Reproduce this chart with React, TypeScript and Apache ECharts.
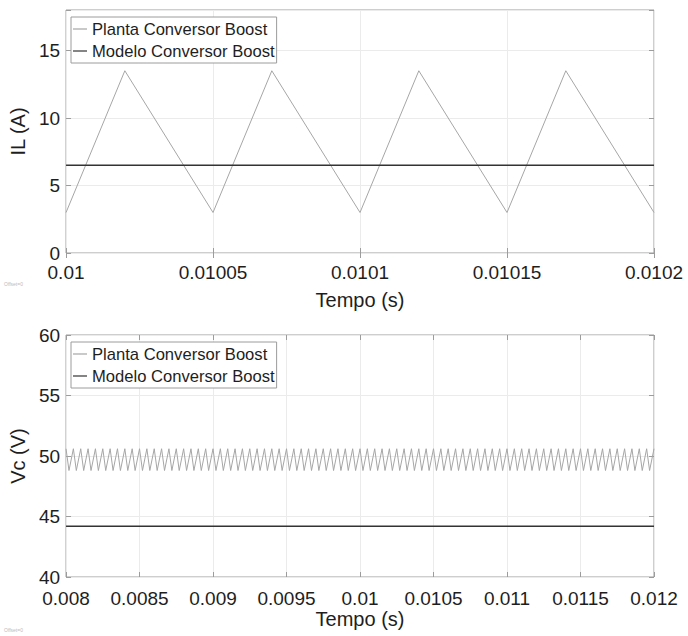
import React, { useEffect, useRef } from "react";
import * as echarts from "echarts";

// ---- Data ----
const seriesNames = ["Planta Conversor Boost", "Modelo Conversor Boost"];

// Upper plot: inductor current IL (A)
const ilTimes = [0.01, 0.01002, 0.01005, 0.01007, 0.0101, 0.01012, 0.01015, 0.01017, 0.0102];
const ilPlanta = [3.0, 13.5, 3.0, 13.5, 3.0, 13.5, 3.0, 13.5, 3.0];
const ilModeloTimes = [0.01, 0.0102];
const ilModelo = [6.5, 6.5];

// Lower plot: capacitor voltage Vc (V)
const vcTimes = [
  0.008, 0.00802, 0.00805, 0.00807, 0.0081, 0.00812, 0.00815, 0.00817, 0.0082, 0.00822, 0.00825, 0.00827, 0.0083, 0.00832, 0.00835, 0.00837, 0.0084, 0.00842, 0.00845, 0.00847,
  0.0085, 0.00852, 0.00855, 0.00857, 0.0086, 0.00862, 0.00865, 0.00867, 0.0087, 0.00872, 0.00875, 0.00877, 0.0088, 0.00882, 0.00885, 0.00887, 0.0089, 0.00892, 0.00895, 0.00897,
  0.009, 0.00902, 0.00905, 0.00907, 0.0091, 0.00912, 0.00915, 0.00917, 0.0092, 0.00922, 0.00925, 0.00927, 0.0093, 0.00932, 0.00935, 0.00937, 0.0094, 0.00942, 0.00945, 0.00947,
  0.0095, 0.00952, 0.00955, 0.00957, 0.0096, 0.00962, 0.00965, 0.00967, 0.0097, 0.00972, 0.00975, 0.00977, 0.0098, 0.00982, 0.00985, 0.00987, 0.0099, 0.00992, 0.00995, 0.00997,
  0.01, 0.01002, 0.01005, 0.01007, 0.0101, 0.01012, 0.01015, 0.01017, 0.0102, 0.01022, 0.01025, 0.01027, 0.0103, 0.01032, 0.01035, 0.01037, 0.0104, 0.01042, 0.01045, 0.01047,
  0.0105, 0.01052, 0.01055, 0.01057, 0.0106, 0.01062, 0.01065, 0.01067, 0.0107, 0.01072, 0.01075, 0.01077, 0.0108, 0.01082, 0.01085, 0.01087, 0.0109, 0.01092, 0.01095, 0.01097,
  0.011, 0.01102, 0.01105, 0.01107, 0.0111, 0.01112, 0.01115, 0.01117, 0.0112, 0.01122, 0.01125, 0.01127, 0.0113, 0.01132, 0.01135, 0.01137, 0.0114, 0.01142, 0.01145, 0.01147,
  0.0115, 0.01152, 0.01155, 0.01157, 0.0116, 0.01162, 0.01165, 0.01167, 0.0117, 0.01172, 0.01175, 0.01177, 0.0118, 0.01182, 0.01185, 0.01187, 0.0119, 0.01192, 0.01195, 0.01197,
  0.012,
];
const vcPlanta = [
  50.6, 48.8, 50.6, 48.8, 50.6, 48.8, 50.6, 48.8, 50.6, 48.8, 50.6, 48.8, 50.6, 48.8, 50.6, 48.8, 50.6, 48.8, 50.6, 48.8,
  50.6, 48.8, 50.6, 48.8, 50.6, 48.8, 50.6, 48.8, 50.6, 48.8, 50.6, 48.8, 50.6, 48.8, 50.6, 48.8, 50.6, 48.8, 50.6, 48.8,
  50.6, 48.8, 50.6, 48.8, 50.6, 48.8, 50.6, 48.8, 50.6, 48.8, 50.6, 48.8, 50.6, 48.8, 50.6, 48.8, 50.6, 48.8, 50.6, 48.8,
  50.6, 48.8, 50.6, 48.8, 50.6, 48.8, 50.6, 48.8, 50.6, 48.8, 50.6, 48.8, 50.6, 48.8, 50.6, 48.8, 50.6, 48.8, 50.6, 48.8,
  50.6, 48.8, 50.6, 48.8, 50.6, 48.8, 50.6, 48.8, 50.6, 48.8, 50.6, 48.8, 50.6, 48.8, 50.6, 48.8, 50.6, 48.8, 50.6, 48.8,
  50.6, 48.8, 50.6, 48.8, 50.6, 48.8, 50.6, 48.8, 50.6, 48.8, 50.6, 48.8, 50.6, 48.8, 50.6, 48.8, 50.6, 48.8, 50.6, 48.8,
  50.6, 48.8, 50.6, 48.8, 50.6, 48.8, 50.6, 48.8, 50.6, 48.8, 50.6, 48.8, 50.6, 48.8, 50.6, 48.8, 50.6, 48.8, 50.6, 48.8,
  50.6, 48.8, 50.6, 48.8, 50.6, 48.8, 50.6, 48.8, 50.6, 48.8, 50.6, 48.8, 50.6, 48.8, 50.6, 48.8, 50.6, 48.8, 50.6, 48.8,
  50.6,
];
const vcModeloTimes = [0.008, 0.012];
const vcModelo = [44.2, 44.2];

// Axis labels / titles
const xTitle = "Tempo (s)";
const ilTitle = "IL (A)";
const vcTitle = "Vc (V)";
const offsetNote = "Offset=0";

const FONT = "'Liberation Sans', Arial, Helvetica, sans-serif";
const TXT = "#1e1e1e";
const BOX = "#9c9c9c";
const GRIDC = "#ebebeb";
const PLANTA_C = "#a6a6a6";
const MODELO_C = "#333333";

const fmtX = (v: number) => parseFloat(v.toPrecision(10)).toString();

function zip(xs: number[], ys: number[]) {
  return xs.map((x, i) => [x, ys[i]]);
}

export default function App() {
  const ref = useRef<HTMLDivElement>(null);
  useEffect(() => {
    if (!ref.current) return;
    const chart = echarts.init(ref.current, undefined, { renderer: "svg" });

    const mainX = (gi: number, min: number, max: number, interval: number, nameGap: number, margin: number) => ({
      gridIndex: gi,
      type: "value",
      min,
      max,
      interval,
      name: xTitle,
      nameLocation: "middle",
      nameGap,
      nameTextStyle: { fontFamily: FONT, fontSize: 20, color: TXT },
      axisLine: { show: false },
      axisTick: { show: true, inside: true, length: 5, lineStyle: { color: BOX } },
      axisLabel: { fontFamily: FONT, fontSize: 19, lineHeight: 16, color: TXT, margin, formatter: fmtX },
      splitLine: { show: true, lineStyle: { color: GRIDC, width: 1 } },
    });
    const topX = (gi: number, min: number, max: number, interval: number) => ({
      gridIndex: gi,
      type: "value",
      position: "top",
      min,
      max,
      interval,
      axisLine: { show: false },
      axisTick: { show: true, inside: true, length: 5, lineStyle: { color: BOX } },
      axisLabel: { show: false },
      splitLine: { show: false },
    });
    const mainY = (gi: number, min: number, max: number, name: string, nameGap: number) => ({
      gridIndex: gi,
      type: "value",
      min,
      max,
      interval: 5,
      name,
      nameLocation: "middle",
      nameGap,
      nameTextStyle: { fontFamily: FONT, fontSize: 20, color: TXT },
      axisLine: { show: false },
      axisTick: { show: true, inside: true, length: 5, lineStyle: { color: BOX } },
      axisLabel: {
        fontFamily: FONT,
        fontSize: 19,
        lineHeight: 16,
        color: TXT,
        margin: 6,
        formatter: (v: number) => (Math.abs(v % 5) < 1e-9 ? String(v) : ""),
      },
      splitLine: { show: true, lineStyle: { color: GRIDC, width: 1 } },
    });
    const rightY = (gi: number, min: number, max: number) => ({
      gridIndex: gi,
      type: "value",
      position: "right",
      min,
      max,
      interval: 5,
      axisLine: { show: false },
      axisTick: { show: true, inside: true, length: 5, lineStyle: { color: BOX } },
      axisLabel: { show: false },
      splitLine: { show: false },
    });

    const legendCommon = {
      orient: "vertical",
      backgroundColor: "#ffffff",
      borderColor: BOX,
      borderWidth: 1,
      borderRadius: 0,
      padding: [2, 2, 2, 2],
      itemGap: 2,
      itemWidth: 14,
      itemHeight: 1.2,
      icon: "rect",
      textStyle: { fontFamily: FONT, fontSize: 16.6, color: TXT, lineHeight: 20 },
      data: seriesNames,
      selectedMode: false,
    };

    chart.setOption({
      animation: false,
      backgroundColor: "#ffffff",
      grid: [
        { left: 64, top: 10, width: 590, height: 243, show: true, borderColor: BOX, borderWidth: 1, backgroundColor: "transparent" },
        { left: 64, top: 335, width: 590, height: 242, show: true, borderColor: BOX, borderWidth: 1, backgroundColor: "transparent" },
      ],
      xAxis: [
        mainX(0, 0.01, 0.0102, 0.00005, 37, 11),
        topX(0, 0.01, 0.0102, 0.00005),
        mainX(1, 0.008, 0.012, 0.0005, 32, 13),
        topX(1, 0.008, 0.012, 0.0005),
      ],
      yAxis: [
        mainY(0, 0, 18, ilTitle, 33),
        rightY(0, 0, 18),
        mainY(1, 40, 60, vcTitle, 33),
        rightY(1, 40, 60),
      ],
      legend: [
        { ...legendCommon, left: 71, top: 17 },
        { ...legendCommon, left: 71, top: 342 },
      ],
      series: [
        {
          name: seriesNames[0],
          type: "line",
          xAxisIndex: 0,
          yAxisIndex: 0,
          data: zip(ilTimes, ilPlanta),
          showSymbol: false,
          lineStyle: { color: PLANTA_C, width: 1 },
          itemStyle: { color: PLANTA_C },
          z: 3,
        },
        {
          name: seriesNames[1],
          type: "line",
          xAxisIndex: 0,
          yAxisIndex: 0,
          data: zip(ilModeloTimes, ilModelo),
          showSymbol: false,
          lineStyle: { color: MODELO_C, width: 1.5 },
          itemStyle: { color: MODELO_C },
          z: 4,
        },
        {
          name: seriesNames[0],
          type: "line",
          xAxisIndex: 2,
          yAxisIndex: 2,
          data: zip(vcTimes, vcPlanta),
          showSymbol: false,
          lineStyle: { color: PLANTA_C, width: 1 },
          itemStyle: { color: PLANTA_C },
          z: 3,
        },
        {
          name: seriesNames[1],
          type: "line",
          xAxisIndex: 2,
          yAxisIndex: 2,
          data: zip(vcModeloTimes, vcModelo),
          showSymbol: false,
          lineStyle: { color: MODELO_C, width: 1.5 },
          itemStyle: { color: MODELO_C },
          z: 4,
        },
      ],
      graphic: [
        { type: "text", left: 4, top: 281, style: { text: offsetNote, fontSize: 5, fill: "#bbbbbb", fontFamily: FONT } },
        { type: "text", left: 4, top: 627, style: { text: offsetNote, fontSize: 5, fill: "#bbbbbb", fontFamily: FONT } },
      ],
    });

    return () => chart.dispose();
  }, []);

  return (
    <div
      ref={ref}
      style={{ position: "absolute", left: 0, top: 0, width: 688, height: 636, background: "#fff" }}
    />
  );
}
